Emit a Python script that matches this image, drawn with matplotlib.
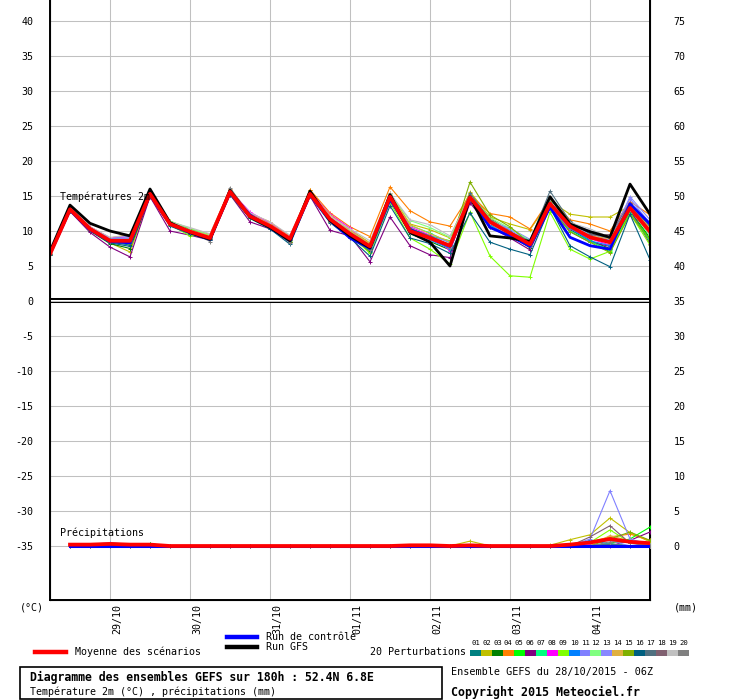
#!/usr/bin/env python3
"""GEFS ensemble diagram: 2m temperature (top) and precipitation (bottom)."""
import matplotlib
matplotlib.use("Agg")
import matplotlib.pyplot as plt
import numpy as np
from matplotlib.lines import Line2D
from matplotlib.patches import Rectangle
from matplotlib.transforms import ScaledTranslation

nan = np.nan

# forecast hours from 28/10/2015 06Z, 6h steps up to 180h
HOURS = list(range(0, 181, 6))
DAY_TICKS = [18, 42, 66, 90, 114, 138, 162]
DAY_LABELS = ["29/10", "30/10", "31/10", "01/11", "02/11", "03/11", "04/11"]

# --- 2m temperature (°C) ---
T_MEAN = [6.7, 13.1, 10.3, 8.6, 8.6, 15.3, 11.0, 9.9, 9.0, 15.6, 12.1, 10.7, 8.9, 15.3, 11.7, 9.6,
          7.8, 14.9, 10.0, 9.0, 7.9, 14.8, 11.3, 9.7, 8.1, 13.9, 10.7, 9.1, 8.4, 13.3, 9.9]
T_GFS = [7.1, 13.7, 11.1, 10.0, 9.3, 16.0, 11.2, 9.8, 8.8, 15.8, 12.0, 10.5, 8.6, 15.7, 11.5, 9.3,
         7.6, 15.2, 9.8, 8.4, 5.0, 14.9, 9.3, 9.0, 8.5, 14.9, 11.0, 9.9, 9.1, 16.7, 12.4]
T_CTRL = [6.7, 13.0, 10.2, 8.5, 8.3, 15.2, 11.0, 9.8, 8.8, 15.5, 12.3, 10.5, 8.6, 15.2, 11.5, 9.0,
          7.5, 14.5, 10.2, 9.0, 7.8, 14.8, 10.5, 9.3, 7.8, 13.4, 9.1, 7.9, 7.4, 13.9, 11.0]

T_PERT = [
    [6.7, 13.2, 10.4, 8.4, 8.0, 15.4, 11.2, 10.0, 9.0, 15.7, 12.0, 10.6, 8.7, 15.2, 11.5, 9.3,
     7.2, 14.6, 10.3, 9.2, 8.0, 15.0, 11.8, 10.0, 8.2, 14.2, 10.8, 9.2, 8.7, 13.8, 10.6],
    [6.8, 13.0, 10.2, 8.3, 7.0, 15.1, 10.9, 9.8, 9.2, 15.5, 12.3, 11.0, 9.1, 15.8, 12.2, 10.2,
     8.3, 15.4, 11.0, 10.2, 9.0, 15.6, 12.0, 11.0, 10.2, 14.3, 12.4, 12.0, 12.0, 13.6, 9.6],
    [6.7, 12.9, 10.0, 8.2, 7.5, 15.0, 10.8, 9.6, 8.8, 15.4, 12.0, 10.5, 8.5, 15.1, 11.3, 9.2,
     7.0, 14.4, 9.6, 8.5, 7.3, 14.5, 11.0, 9.4, 7.6, 13.6, 10.2, 8.6, 7.5, 12.9, 9.0],
    [6.7, 13.3, 10.6, 9.0, 9.5, 15.6, 11.4, 10.3, 9.5, 16.0, 12.5, 11.3, 9.2, 15.9, 12.6, 10.6,
     9.2, 16.3, 12.9, 11.3, 10.7, 15.2, 12.5, 12.0, 10.3, 14.6, 11.6, 11.0, 10.0, 14.2, 12.3],
    [6.6, 13.0, 10.4, 8.8, 8.9, 15.2, 11.3, 10.2, 9.3, 15.6, 12.0, 10.8, 8.9, 15.3, 11.9, 9.8,
     7.9, 14.8, 10.4, 9.3, 8.6, 15.0, 11.2, 9.6, 7.8, 14.0, 10.5, 8.7, 7.0, 12.8, 8.8],
    [6.6, 12.8, 9.8, 7.7, 6.3, 14.9, 10.0, 9.4, 8.7, 15.2, 11.3, 10.3, 8.4, 15.0, 10.1, 9.3,
     5.6, 12.0, 7.9, 6.6, 6.2, 14.0, 10.6, 9.0, 7.3, 13.5, 9.9, 8.4, 7.8, 13.0, 8.2],
    [6.7, 13.1, 10.5, 8.9, 9.0, 15.4, 11.3, 10.1, 9.2, 15.6, 12.3, 10.9, 9.0, 15.4, 11.8, 9.7,
     7.6, 14.8, 10.8, 9.7, 8.3, 14.9, 10.8, 9.2, 7.8, 13.6, 10.0, 8.5, 7.3, 12.6, 8.5],
    [6.7, 13.2, 10.6, 9.0, 9.2, 15.5, 11.2, 10.1, 9.3, 15.8, 12.7, 11.1, 9.2, 15.6, 12.4, 10.4,
     7.6, 15.0, 10.6, 9.4, 7.2, 14.7, 11.0, 9.6, 8.3, 13.5, 10.3, 8.9, 8.0, 13.1, 9.5],
    [6.7, 13.0, 10.2, 8.5, 8.4, 15.2, 10.9, 9.3, 9.5, 15.4, 11.8, 10.4, 8.6, 15.3, 11.5, 9.5,
     6.8, 14.1, 9.0, 7.4, 5.3, 12.7, 6.4, 3.6, 3.4, 12.7, 7.4, 6.0, 7.1, 12.5, 8.0],
    [6.7, 13.1, 10.3, 8.6, 8.7, 15.3, 11.1, 10.0, 9.1, 15.6, 12.1, 10.8, 8.8, 15.3, 11.8, 9.7,
     7.7, 14.7, 9.9, 8.7, 7.5, 14.6, 10.9, 9.4, 8.0, 13.7, 10.4, 8.6, 7.9, 13.4, 10.2],
    [6.7, 13.3, 10.5, 8.9, 9.3, 15.4, 11.1, 10.0, 9.1, 15.7, 12.2, 10.9, 9.0, 15.5, 11.9, 10.0,
     8.0, 14.9, 10.1, 9.3, 8.4, 14.8, 11.4, 10.4, 8.8, 14.1, 11.2, 10.0, 9.2, 14.6, 11.1],
    [6.6, 13.0, 10.3, 8.7, 8.9, 15.2, 11.4, 10.4, 9.4, 15.5, 12.0, 10.9, 9.1, 15.3, 11.7, 10.0,
     8.0, 15.3, 11.5, 10.5, 9.1, 15.2, 11.9, 10.4, 8.6, 13.9, 10.8, 9.4, 8.3, 13.1, 9.4],
    [6.7, 13.2, 10.4, 8.8, 9.0, 15.3, 11.0, 9.9, 9.0, 15.6, 12.2, 10.7, 8.8, 15.2, 11.6, 9.5,
     7.9, 14.9, 9.7, 8.8, 7.7, 14.6, 11.5, 10.2, 8.3, 14.0, 11.0, 9.6, 8.7, 14.9, 11.6],
    [6.8, 13.1, 10.3, 8.7, 8.6, 15.4, 11.2, 10.1, 9.3, 15.7, 12.4, 11.0, 9.2, 15.5, 12.3, 10.1,
     8.2, 15.2, 10.9, 9.6, 8.5, 15.1, 11.7, 9.9, 8.0, 13.8, 10.6, 9.3, 8.9, 13.7, 10.4],
    [6.7, 13.0, 10.2, 8.5, 8.2, 15.3, 10.8, 9.7, 8.9, 15.5, 11.9, 10.5, 8.4, 15.2, 11.3, 9.4,
     7.4, 14.5, 10.2, 9.1, 7.9, 17.0, 12.3, 10.6, 8.2, 13.3, 9.9, 8.4, 6.9, 12.4, 8.7],
    [6.6, 12.9, 10.1, 8.3, 7.8, 15.0, 10.7, 9.6, 8.7, 15.2, 11.8, 10.3, 8.1, 15.0, 11.2, 9.0,
     6.4, 13.6, 9.0, 8.2, 6.8, 12.6, 8.4, 7.4, 6.6, 13.4, 7.9, 6.3, 4.9, 12.4, 5.9],
    [6.7, 13.1, 10.2, 8.6, 8.5, 15.4, 11.0, 9.9, 9.0, 15.8, 12.3, 10.8, 8.7, 15.4, 11.6, 9.4,
     7.6, 15.1, 10.3, 9.3, 8.0, 15.4, 11.6, 9.8, 8.6, 15.7, 11.4, 9.6, 9.0, 13.8, 10.8],
    [6.7, 13.2, 10.3, 8.5, 8.4, 15.3, 11.0, 9.8, 8.9, 15.6, 12.0, 10.6, 8.7, 15.3, 11.4, 9.3,
     7.3, 14.8, 10.0, 8.9, 7.8, 14.7, 11.1, 9.5, 7.9, 13.9, 10.6, 9.4, 9.5, 14.0, 10.0],
    [6.8, 13.2, 10.6, 9.1, 9.4, 15.5, 11.3, 10.5, 9.6, 15.8, 12.6, 11.3, 9.4, 15.6, 12.1, 10.3,
     8.6, 15.4, 11.6, 10.9, 9.3, 14.9, 11.1, 9.3, 8.4, 14.1, 11.2, 10.3, 9.1, 13.2, 10.1],
    [6.7, 13.4, 10.5, 8.8, 8.7, 15.6, 11.2, 10.0, 8.5, 16.2, 12.2, 10.7, 8.3, 15.6, 11.3, 9.0,
     7.3, 15.0, 9.8, 8.9, 7.6, 14.6, 10.6, 9.3, 7.8, 14.2, 10.6, 9.2, 8.2, 13.9, 10.0],
]

# --- precipitation (mm per 6h), no value at step 0 ---
P_MEAN = [nan, 0.2, 0.2, 0.3, 0.2, 0.2, 0.0, 0.0, 0.0, 0.0, 0.0, 0.0, 0.0, 0.0, 0.0, 0.0,
          0.0, 0.0, 0.1, 0.1, 0.0, 0.1, 0.0, 0.0, 0.0, 0.0, 0.2, 0.5, 1.0, 0.6, 0.4]
P_GFS = [nan, 0.0, 0.0, 0.0, 0.0, 0.0, 0.0, 0.0, 0.0, 0.0, 0.0, 0.0, 0.0, 0.0, 0.0, 0.0,
         0.0, 0.0, 0.0, 0.0, 0.0, 0.0, 0.0, 0.0, 0.0, 0.0, 0.0, 0.0, 0.0, 0.0, 0.0]
P_CTRL = [nan, 0.0, 0.0, 0.0, 0.0, 0.0, 0.0, 0.0, 0.0, 0.0, 0.0, 0.0, 0.0, 0.0, 0.0, 0.0,
          0.0, 0.0, 0.0, 0.0, 0.0, 0.0, 0.0, 0.0, 0.0, 0.0, 0.0, 0.0, 0.0, 0.0, 0.0]

P_PERT = [
    [nan, 0.0, 0.0, 0.0, 0.0, 0.0, 0.0, 0.0, 0.0, 0.0, 0.0, 0.0, 0.0, 0.0, 0.0, 0.0,
     0.0, 0.0, 0.0, 0.0, 0.0, 0.0, 0.0, 0.0, 0.0, 0.0, 0.0, 0.0, 0.2, 0.0, 0.0],
    [nan, 0.0, 0.0, 0.0, 0.0, 0.0, 0.0, 0.0, 0.0, 0.0, 0.0, 0.0, 0.0, 0.0, 0.0, 0.0,
     0.0, 0.0, 0.0, 0.0, 0.0, 0.7, 0.0, 0.0, 0.0, 0.1, 0.9, 1.6, 4.0, 1.9, 0.6],
    [nan, 0.0, 0.0, 0.0, 0.0, 0.3, 0.0, 0.0, 0.0, 0.0, 0.0, 0.0, 0.0, 0.0, 0.0, 0.0,
     0.0, 0.0, 0.0, 0.0, 0.0, 0.0, 0.0, 0.0, 0.0, 0.0, 0.0, 0.0, 0.3, 0.0, 0.0],
    [nan, 0.0, 0.0, 0.0, 0.0, 0.0, 0.0, 0.0, 0.0, 0.0, 0.0, 0.0, 0.0, 0.0, 0.0, 0.0,
     0.0, 0.0, 0.0, 0.0, 0.0, 0.0, 0.0, 0.0, 0.0, 0.0, 0.3, 0.6, 1.3, 1.7, 0.8],
    [nan, 0.0, 0.0, 0.0, 0.0, 0.3, 0.0, 0.0, 0.0, 0.0, 0.0, 0.0, 0.0, 0.0, 0.0, 0.0,
     0.0, 0.0, 0.0, 0.0, 0.0, 0.0, 0.0, 0.0, 0.0, 0.0, 0.0, 0.0, 0.4, 1.0, 2.7],
    [nan, 0.0, 0.0, 0.0, 0.0, 0.0, 0.0, 0.0, 0.0, 0.0, 0.0, 0.0, 0.0, 0.0, 0.0, 0.0,
     0.0, 0.0, 0.0, 0.0, 0.0, 0.0, 0.0, 0.0, 0.0, 0.0, 0.0, 0.0, 0.0, 0.8, 2.0],
    [nan, 0.0, 0.0, 0.0, 0.0, 0.0, 0.0, 0.0, 0.0, 0.0, 0.0, 0.0, 0.0, 0.0, 0.0, 0.0,
     0.0, 0.0, 0.0, 0.0, 0.0, 0.0, 0.0, 0.0, 0.0, 0.0, 0.0, 0.0, 0.2, 0.0, 0.0],
    [nan, 0.0, 0.0, 0.0, 0.0, 0.0, 0.0, 0.0, 0.0, 0.0, 0.0, 0.0, 0.0, 0.0, 0.0, 0.0,
     0.0, 0.0, 0.0, 0.0, 0.0, 0.0, 0.0, 0.0, 0.0, 0.0, 0.0, 0.2, 0.0, 0.0, 0.0],
    [nan, 0.0, 0.0, 0.0, 0.0, 0.0, 0.0, 0.0, 0.0, 0.0, 0.0, 0.0, 0.0, 0.0, 0.0, 0.0,
     0.0, 0.0, 0.0, 0.0, 0.0, 0.0, 0.0, 0.0, 0.0, 0.0, 0.0, 0.5, 2.3, 0.5, 0.2],
    [nan, 0.0, 0.0, 0.0, 0.0, 0.0, 0.0, 0.0, 0.0, 0.0, 0.0, 0.0, 0.0, 0.0, 0.0, 0.0,
     0.0, 0.0, 0.0, 0.0, 0.0, 0.0, 0.0, 0.0, 0.0, 0.0, 0.0, 0.8, 0.3, 0.0, 0.0],
    [nan, 0.0, 0.2, 0.5, 0.2, 0.0, 0.0, 0.0, 0.0, 0.0, 0.0, 0.0, 0.0, 0.0, 0.0, 0.0,
     0.0, 0.0, 0.0, 0.0, 0.0, 0.0, 0.0, 0.0, 0.0, 0.0, 0.0, 1.0, 7.9, 1.0, 0.2],
    [nan, 0.0, 0.0, 0.0, 0.0, 0.0, 0.0, 0.0, 0.0, 0.0, 0.0, 0.0, 0.0, 0.0, 0.0, 0.0,
     0.0, 0.0, 0.0, 0.0, 0.0, 0.0, 0.0, 0.0, 0.0, 0.0, 0.0, 0.0, 0.3, 0.0, 0.0],
    [nan, 0.0, 0.0, 0.0, 0.0, 0.0, 0.0, 0.0, 0.0, 0.0, 0.0, 0.0, 0.0, 0.0, 0.0, 0.0,
     0.0, 0.0, 0.0, 0.0, 0.0, 0.0, 0.0, 0.0, 0.0, 0.0, 0.0, 0.4, 0.8, 0.0, 0.0],
    [nan, 0.0, 0.0, 0.0, 0.0, 0.0, 0.0, 0.0, 0.0, 0.0, 0.0, 0.0, 0.0, 0.0, 0.0, 0.0,
     0.0, 0.0, 0.0, 0.0, 0.0, 0.0, 0.0, 0.0, 0.0, 0.0, 0.0, 0.0, 1.5, 0.7, 0.0],
    [nan, 0.0, 0.0, 0.0, 0.0, 0.0, 0.0, 0.0, 0.0, 0.0, 0.0, 0.0, 0.0, 0.0, 0.0, 0.0,
     0.0, 0.0, 0.0, 0.0, 0.0, 0.0, 0.0, 0.0, 0.0, 0.0, 0.0, 0.0, 1.0, 2.0, 0.8],
    [nan, 0.0, 0.0, 0.0, 0.0, 0.0, 0.0, 0.0, 0.0, 0.0, 0.0, 0.0, 0.0, 0.0, 0.0, 0.0,
     0.0, 0.0, 0.0, 0.0, 0.0, 0.0, 0.0, 0.0, 0.0, 0.0, 0.0, 0.0, 0.2, 0.0, 0.0],
    [nan, 0.0, 0.0, 0.0, 0.0, 0.0, 0.0, 0.0, 0.0, 0.0, 0.0, 0.0, 0.0, 0.0, 0.0, 0.0,
     0.0, 0.0, 0.0, 0.0, 0.0, 0.0, 0.0, 0.0, 0.0, 0.0, 0.0, 0.0, 0.3, 0.0, 0.0],
    [nan, 0.0, 0.0, 0.0, 0.0, 0.0, 0.0, 0.0, 0.0, 0.0, 0.0, 0.0, 0.0, 0.0, 0.0, 0.0,
     0.0, 0.0, 0.0, 0.0, 0.0, 0.0, 0.0, 0.0, 0.0, 0.0, 0.0, 1.3, 2.9, 0.4, 0.0],
    [nan, 0.0, 0.0, 0.0, 0.0, 0.0, 0.0, 0.0, 0.0, 0.0, 0.0, 0.0, 0.0, 0.0, 0.0, 0.0,
     0.0, 0.0, 0.0, 0.0, 0.0, 0.0, 0.0, 0.0, 0.0, 0.0, 0.0, 0.0, 0.0, 0.0, 0.0],
    [nan, 0.0, 0.0, 0.0, 0.0, 0.0, 0.0, 0.0, 0.0, 0.0, 0.0, 0.0, 0.0, 0.0, 0.0, 0.0,
     0.0, 0.0, 0.0, 0.0, 0.0, 0.0, 0.0, 0.0, 0.0, 0.0, 0.0, 0.0, 0.6, 0.5, 0.0],
]

PERT_COLORS = [
    "#008080", "#c0c000", "#008000", "#ff8000", "#00ff00",
    "#800080", "#00ff80", "#ff00ff", "#80ff00", "#0080ff",
    "#8080ff", "#80ff80", "#8888ff", "#e0b040", "#80b000",
    "#006080", "#507080", "#806070", "#c0c0c0", "#808080",
]

W, H = 740, 700
FONT = "DejaVu Sans Mono"
plt.rcParams["font.family"] = FONT
GRID = "#c0c0c0"


def fx(px):
    return px / W


def fy(py):
    return 1 - py / H


fig = plt.figure(figsize=(W / 100, H / 100), dpi=100)
ax = fig.add_axes([fx(50), 100 / H, 600 / W, 600 / H])

# temperature axis: 0 at pixel row 301, 7 px per degree
ax.set_xlim(0, 180)
ax.set_ylim(-299 / 7, 301 / 7)
ax2 = ax.twinx()
ax2.set_ylim(-299 / 7 + 35, 301 / 7 + 35)   # precipitation mm = temp scale + 35

ax.spines["top"].set_visible(False)
ax2.spines["top"].set_visible(False)
for s in ("left", "right", "bottom"):
    ax2.spines[s].set_linewidth(1.4)
    ax2.spines[s].set_color("black")

ax.set_yticks(range(-35, 45, 5))
ax.set_yticklabels([str(v) for v in range(-35, 45, 5)], fontsize=7.2)
ax2.set_yticks(range(0, 80, 5))
ax2.set_yticklabels([str(v) for v in range(0, 80, 5)], fontsize=7.2)
ax.tick_params(axis="y", length=0, pad=12)
ax2.tick_params(axis="y", length=0, pad=17)

ax.set_xticks(DAY_TICKS)
ax.set_xticklabels(DAY_LABELS, rotation=90, fontsize=7.2, va="top", ha="center")
ax.tick_params(axis="x", length=0, pad=3)
for lbl in ax.get_xticklabels():
    lbl.set_transform(lbl.get_transform() + ScaledTranslation(7 / 100, 0, fig.dpi_scale_trans))

ax.grid(True, color=GRID, linewidth=0.75)
ax.set_axisbelow(True)

# temperature curves
for vals, col in zip(T_PERT, PERT_COLORS):
    ax.plot(HOURS, vals, color=col, lw=0.8, marker="+", ms=3.5, mew=0.7, zorder=3)
ax.plot(HOURS, T_CTRL, color="#0000ff", lw=2.0, zorder=4)
ax.plot(HOURS, T_GFS, color="black", lw=2.0, zorder=5)
ax.plot(HOURS, T_MEAN, color="#ff0000", lw=2.7, zorder=6)

# precipitation curves
ax2.plot(HOURS, P_GFS, color="black", lw=1.5, zorder=2)
for vals, col in zip(P_PERT, PERT_COLORS):
    ax2.plot(HOURS, vals, color=col, lw=0.8, marker="+", ms=3.5, mew=0.7, zorder=3)
ax2.plot(HOURS, P_CTRL, color="#0000ff", lw=2.2, zorder=4)
ax2.plot(HOURS, P_MEAN, color="#ff0000", lw=2.7, zorder=6)

# double separator between panels
ax.axhline(2.5 / 7, color="black", lw=1.45, zorder=7)
ax.axhline(1 / 7, color="white", lw=0.75, zorder=7)
ax.axhline(-0.5 / 7, color="black", lw=0.75, zorder=7)

ax.text(3, 14.9, "Températures 2m", fontsize=7.2, va="center", ha="left", zorder=8)
ax.text(3, -33.1, "Précipitations", fontsize=7.2, va="center", ha="left", zorder=8)

# labels below the axes
fig.text(fx(20), fy(607), "(°C)", fontsize=7.2, va="center", ha="left")
fig.text(fx(674), fy(607), "(mm)", fontsize=7.2, va="center", ha="left")

# legend
fig.add_artist(Line2D([fx(35), fx(66)], [fy(652)] * 2, color="#ff0000", lw=3.2))
fig.text(fx(75), fy(652), "Moyenne des scénarios", fontsize=7.2, va="center")
fig.add_artist(Line2D([fx(227), fx(257)], [fy(637)] * 2, color="#0000ff", lw=3.2))
fig.text(fx(266), fy(637), "Run de contrôle", fontsize=7.2, va="center")
fig.add_artist(Line2D([fx(227), fx(257)], [fy(647)] * 2, color="black", lw=3.2))
fig.text(fx(266), fy(647), "Run GFS", fontsize=7.2, va="center")
fig.text(fx(370), fy(652), "20 Perturbations", fontsize=7.2, va="center")

box_w = 219 / 20
for i, col in enumerate(PERT_COLORS):
    x0 = 470 + i * box_w
    fig.add_artist(Rectangle((fx(x0), fy(656)), box_w / W, 6 / H,
                             transform=fig.transFigure, facecolor=col, edgecolor="none"))
    fig.text(fx(x0 + box_w / 2), fy(643), f"{i + 1:02d}", fontsize=5.2,
             ha="center", va="center")

# title box
fig.add_artist(Rectangle((fx(20), fy(699)), 422 / W, 32 / H, transform=fig.transFigure,
                         facecolor="none", edgecolor="black", lw=1.2))
fig.text(fx(30), fy(677), "Diagramme des ensembles GEFS sur 180h : 52.4N 6.8E",
         fontsize=8.3, fontweight="bold", va="center")
fig.text(fx(30), fy(692), "Température 2m (°C) , précipitations (mm)",
         fontsize=7.2, va="center")
fig.text(fx(451), fy(672), "Ensemble GEFS du 28/10/2015 - 06Z", fontsize=7.3, va="center")
fig.text(fx(451), fy(692), "Copyright 2015 Meteociel.fr", fontsize=8.4,
         fontweight="bold", va="center")

fig.savefig("out.png", dpi=100)
